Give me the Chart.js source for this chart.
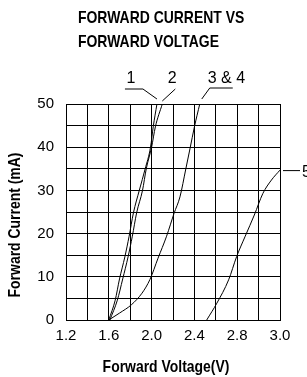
<!DOCTYPE html>
<html>
<head>
<meta charset="utf-8">
<script src="https://cdn.jsdelivr.net/npm/chart.js@4/dist/chart.umd.min.js"></script>
<style>
  html, body { margin: 0; padding: 0; background: #fff; }
  #wrap { width: 307px; height: 377px; }
</style>
</head>
<body>
<div id="wrap"><canvas id="ivChart" width="307" height="377"></canvas></div>
<script>
// titles and labels
const titleLines = ['FORWARD CURRENT VS', 'FORWARD VOLTAGE'];
const xTitle = 'Forward Voltage(V)';
const yTitle = 'Forward Current (mA)';
const curveNames = ['1', '2', '3 & 4', '5'];

// tick labels (one per grid line)
const xTickLabels = ['1.2', '', '1.6', '', '2.0', '', '2.4', '', '2.8', '', '3.0'];
const yTickLabels = ['0', '', '10', '', '20', '', '30', '', '40', '', '50'];

// curve 1
const v1 = [1.60, 1.66, 1.70, 1.75, 1.79, 1.83, 1.885, 1.94, 1.99, 2.015, 2.05];
const i1 = [0, 4.6, 9.5, 14.6, 19.4, 24.8, 30, 35, 40, 44.7, 50];
// curve 2
const v2 = [1.61, 1.68, 1.73, 1.78, 1.82, 1.86, 1.915, 1.95, 2.0, 2.035, 2.10];
const i2 = [0, 4.6, 9.5, 14.6, 19.4, 24.8, 30, 35, 40, 44.7, 50];
// curve 3 & 4
const v3 = [1.60, 1.70, 1.81, 1.91, 1.985, 2.06, 2.14, 2.21, 2.265, 2.32, 2.36, 2.40, 2.45];
const i3 = [0, 1.6, 3.5, 6.2, 9.4, 14.3, 19.4, 24.7, 28.5, 35, 39.8, 44.7, 50];
// curve 5
const v5 = [2.515, 2.61, 2.72, 2.795, 2.875, 2.96, 3.04, 3.12, 3.2];
const i5 = [0, 3.9, 9.3, 14.7, 19.4, 24.3, 29.3, 32.4, 34.7];

const plain = "'Liberation Sans', Arial, sans-serif";
const squeeze = 0.82; // narrow face: Liberation Sans squeezed sideways

function toPoints(xs, ys) {
    return xs.map((x, k) => ({ x: x, y: ys[k] }));
}

function curve(xs, ys) {
    return {
        data: toPoints(xs, ys),
        showLine: true,
        borderColor: '#000',
        borderWidth: 1,
        pointRadius: 0,
        cubicInterpolationMode: 'monotone'
    };
}

function narrowText(ctx, text, x, y, align, angle) {
    ctx.save();
    ctx.translate(x, y);
    if (angle) ctx.rotate(angle);
    ctx.scale(squeeze, 1);
    ctx.textAlign = align;
    ctx.fillText(text, 0, 0);
    ctx.restore();
}

// text and leader lines drawn on top of the chart
const labelPlugin = {
    id: 'labels',
    afterDraw(chart) {
        const ctx = chart.ctx;
        const area = chart.chartArea;
        const xs = chart.scales.x;
        const ys = chart.scales.y;
        const endOf = (vs, is) => ({
            x: xs.getPixelForValue(vs[vs.length - 1]),
            y: ys.getPixelForValue(is[is.length - 1])
        });

        ctx.save();
        ctx.fillStyle = '#000';
        ctx.strokeStyle = '#000';
        ctx.lineWidth = 1;
        ctx.textBaseline = 'alphabetic';

        // chart title
        ctx.font = 'bold 17px ' + plain;
        narrowText(ctx, titleLines[0], area.left + 12, 23, 'left');
        narrowText(ctx, titleLines[1], area.left + 12, 46.5, 'left');

        // axis titles
        narrowText(ctx, xTitle, 166, area.bottom + 51.5, 'center');
        narrowText(ctx, yTitle, 20, 225, 'center', -Math.PI / 2);

        // curve labels and leaders
        ctx.font = '16px ' + plain;
        const p1 = endOf(v1, i1);
        const p2 = endOf(v2, i2);
        const p3 = endOf(v3, i3);
        const p5 = endOf(v5, i5);

        ctx.beginPath();
        ctx.moveTo(p1.x, p1.y - 5);
        ctx.lineTo(p1.x - 14, p1.y - 15);
        ctx.lineTo(p1.x - 32, p1.y - 15);
        ctx.moveTo(p2.x, p2.y - 3);
        ctx.lineTo(p2.x + 13, p2.y - 15);
        ctx.moveTo(p3.x + 2, p3.y - 5);
        ctx.lineTo(p3.x + 10, p3.y - 16);
        ctx.lineTo(p3.x + 33, p3.y - 16);
        ctx.moveTo(p5.x + 3, p5.y + 0.5);
        ctx.lineTo(p5.x + 20, p5.y + 0.5);
        ctx.stroke();

        ctx.textAlign = 'center';
        ctx.fillText(curveNames[0], p1.x - 26, p1.y - 21);
        ctx.fillText(curveNames[1], p2.x + 10, p2.y - 21);
        ctx.textAlign = 'left';
        ctx.fillText(curveNames[2], p3.x + 8, p3.y - 21);
        ctx.fillText(curveNames[3], p5.x + 22, p5.y + 7);
        ctx.restore();
    }
};

const ctx = document.getElementById('ivChart').getContext('2d');
new Chart(ctx, {
    type: 'scatter',
    data: {
        datasets: [curve(v1, i1), curve(v2, i2), curve(v3, i3), curve(v5, i5)]
    },
    options: {
        responsive: false,
        animation: false,
        layout: { padding: { top: 104, right: 27, left: 0, bottom: 0 } },
        plugins: {
            legend: { display: false },
            tooltip: { enabled: false }
        },
        scales: {
            x: {
                type: 'linear',
                min: 1.2,
                max: 3.2,
                afterFit: s => { s.height = 57; },
                grid: { color: '#000', lineWidth: 1, drawTicks: false },
                border: { color: '#000', width: 1 },
                ticks: {
                    stepSize: 0.2,
                    padding: 7,
                    color: '#000',
                    maxRotation: 0,
                    autoSkip: false,
                    font: { family: plain, size: 15 },
                    callback: (value, index) => xTickLabels[index]
                }
            },
            y: {
                min: 0,
                max: 50,
                afterFit: s => { s.width = 66; },
                grid: { color: '#000', lineWidth: 1, drawTicks: false },
                border: { color: '#000', width: 1 },
                ticks: {
                    stepSize: 5,
                    padding: 12,
                    color: '#000',
                    autoSkip: false,
                    font: { family: plain, size: 15 },
                    callback: (value, index) => yTickLabels[index]
                }
            }
        }
    },
    plugins: [labelPlugin]
});
</script>
</body>
</html>
